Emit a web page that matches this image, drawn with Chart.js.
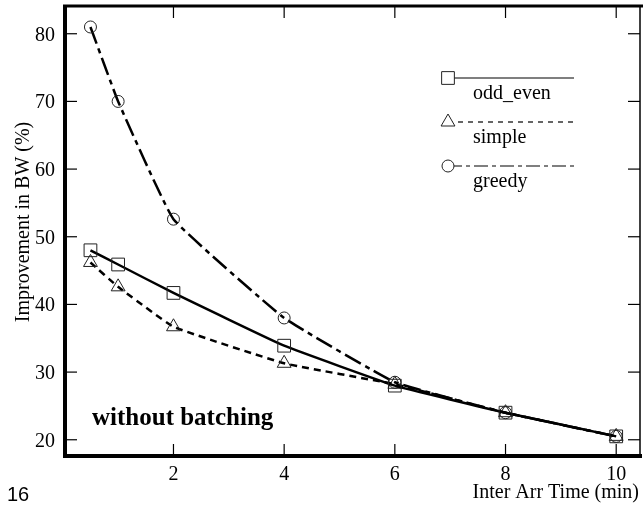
<!DOCTYPE html>
<html>
<head>
<meta charset="utf-8">
<script src="https://cdn.jsdelivr.net/npm/chart.js@4/dist/chart.umd.min.js"></script>
<style>
html,body{margin:0;padding:0;background:#fff;}
#wrap{width:643px;height:509px;position:relative;}
</style>
</head>
<body>
<div id="wrap"><canvas id="c" width="643" height="509"></canvas></div>
<script>
// ---- data ----
const xValues = [0.5, 1, 2, 4, 6, 8, 10];
const oddEven = [48.0, 45.9, 41.7, 33.9, 28.0, 24.0, 20.5];
const simple  = [46.2, 42.6, 36.7, 31.3, 28.2, 24.0, 20.5];
const greedy  = [81.0, 70.0, 52.6, 38.0, 28.5, 24.0, 20.5];
const seriesNames = ['odd_even', 'simple', 'greedy'];
const xTickValues = [2, 4, 6, 8, 10];
const yTickValues = [20, 30, 40, 50, 60, 70, 80];
const xTitle = 'Inter Arr Time (min)';
const yTitle = 'Improvement in BW (%)';
const noteText = 'without batching';
const pageNumber = '16';

const serif = "'Liberation Serif', 'Times New Roman', serif";
const toPts = arr => arr.map((v, i) => ({x: xValues[i], y: v}));

const framePlugin = {
  id: 'frame',
  afterDraw(chart) {
    const ctx = chart.ctx, a = chart.chartArea;
    const xs = chart.scales.x, ys = chart.scales.y;
    ctx.save();
    ctx.strokeStyle = '#000';
    ctx.lineCap = 'butt';
    // borders
    ctx.lineWidth = 4;
    ctx.beginPath(); ctx.moveTo(a.left, a.top - 1); ctx.lineTo(a.left, a.bottom + 2); ctx.stroke();
    ctx.beginPath(); ctx.moveTo(a.left - 2, a.bottom); ctx.lineTo(a.right + 2, a.bottom); ctx.stroke();
    ctx.lineWidth = 3;
    ctx.beginPath(); ctx.moveTo(a.left - 2, a.top); ctx.lineTo(a.right + 3, a.top); ctx.stroke();
    ctx.lineWidth = 1.5;
    ctx.beginPath(); ctx.moveTo(a.right, a.top); ctx.lineTo(a.right, a.bottom); ctx.stroke();
    // inward ticks + tick labels
    ctx.lineWidth = 1.2;
    ctx.fillStyle = '#000';
    ctx.font = "20px " + serif;
    const tl = 12;
    ctx.textAlign = 'center';
    ctx.textBaseline = 'alphabetic';
    xTickValues.forEach(v => {
      const px = xs.getPixelForValue(v);
      ctx.beginPath(); ctx.moveTo(px, a.bottom); ctx.lineTo(px, a.bottom - tl); ctx.stroke();
      ctx.beginPath(); ctx.moveTo(px, a.top); ctx.lineTo(px, a.top + tl); ctx.stroke();
      ctx.fillText(String(v), px, a.bottom + 24);
    });
    ctx.textAlign = 'right';
    yTickValues.forEach(v => {
      const py = ys.getPixelForValue(v);
      ctx.beginPath(); ctx.moveTo(a.left, py); ctx.lineTo(a.left + tl, py); ctx.stroke();
      ctx.beginPath(); ctx.moveTo(a.right, py); ctx.lineTo(a.right - tl, py); ctx.stroke();
      ctx.fillText(String(v), a.left - 10, py + 7);
    });
    // x axis title
    ctx.textAlign = 'right';
    ctx.fillText(xTitle, a.right - 1, a.bottom + 42);
    // y axis title
    ctx.save();
    ctx.translate(24, a.top + 216);
    ctx.rotate(-Math.PI / 2);
    ctx.textAlign = 'center';
    ctx.textBaseline = 'middle';
    ctx.fillText(yTitle, 0, 0);
    ctx.restore();
    // note text
    ctx.font = "bold 25px " + serif;
    ctx.textAlign = 'left';
    ctx.textBaseline = 'alphabetic';
    ctx.fillText(noteText, a.left + 27, a.bottom - 31);
    // page number
    ctx.font = "20px 'Liberation Sans', Arial, sans-serif";
    ctx.fillText(pageNumber, 7, 501);
    // legend
    const lx0 = a.left + 383, lx1 = a.left + 509, tx = a.left + 408;
    const rows = [a.top + 72, a.top + 116, a.top + 160];
    chart.data.datasets.forEach((ds, i) => {
      const y = rows[i];
      ctx.save();
      ctx.lineWidth = 1.2;
      ctx.strokeStyle = '#000';
      ctx.setLineDash(ds.legendDash || []);
      ctx.beginPath(); ctx.moveTo(lx0, y); ctx.lineTo(lx1, y); ctx.stroke();
      ctx.setLineDash([]);
      ctx.fillStyle = '#fff';
      ctx.strokeStyle = '#222';
      ctx.lineWidth = 1;
      Chart.helpers.drawPoint(ctx, {pointStyle: ds.pointStyle, radius: ds.pointRadius, borderWidth: 1, rotation: 0}, lx0, y);
      ctx.restore();
      ctx.fillStyle = '#000';
      ctx.font = "20px " + serif;
      ctx.fillText(ds.label, tx, y + 21);
    });
    ctx.restore();
  }
};

const common = {
  fill: false,
  borderColor: '#000',
  pointBorderColor: '#222',
  pointBackgroundColor: 'rgba(0,0,0,0)',
  pointBorderWidth: 1,
  tension: 0.1,
};

new Chart(document.getElementById('c'), {
  type: 'line',
  data: {
    datasets: [
      Object.assign({}, common, {label: seriesNames[0], data: toPts(oddEven), borderWidth: 2.5, borderDash: [], legendDash: [], pointStyle: 'rect', pointRadius: 9}),
      Object.assign({}, common, {label: seriesNames[1], data: toPts(simple), borderWidth: 2.5, borderDash: [7, 5], legendDash: [5, 5], pointStyle: 'triangle', pointRadius: 8}),
      Object.assign({}, common, {label: seriesNames[2], data: toPts(greedy), borderWidth: 2.5, borderDash: [18, 5, 5, 5], legendDash: [14, 4, 4, 4], pointStyle: 'circle', pointRadius: 6}),
    ]
  },
  options: {
    responsive: false,
    animation: false,
    devicePixelRatio: 1,
    layout: {autoPadding: false, padding: {top: 6, right: 3, left: 0, bottom: 0}},
    plugins: {legend: {display: false}, tooltip: {enabled: false}},
    scales: {
      x: {
        type: 'linear', min: 0.04, max: 10.43,
        grid: {display: false, drawTicks: false},
        border: {display: false},
        afterBuildTicks: s => { s.ticks = xTickValues.map(v => ({value: v})); },
        afterFit: s => { s.height = 53; },
        ticks: {display: false}
      },
      y: {
        type: 'linear', min: 17.6, max: 84.1,
        grid: {display: false, drawTicks: false},
        border: {display: false},
        afterBuildTicks: s => { s.ticks = yTickValues.map(v => ({value: v})); },
        afterFit: s => { s.width = 65; },
        ticks: {display: false}
      }
    }
  },
  plugins: [framePlugin]
});
</script>
</body>
</html>
